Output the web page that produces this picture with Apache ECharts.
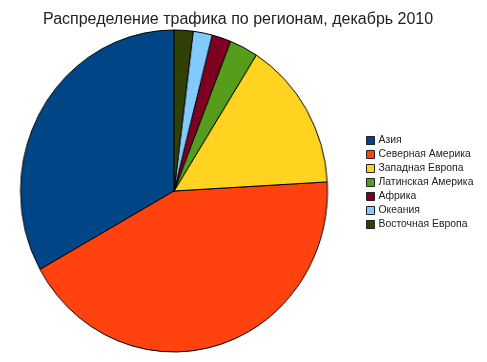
<!DOCTYPE html>
<html><head><meta charset="utf-8">
<script src="https://cdn.jsdelivr.net/npm/echarts@6/dist/echarts.min.js"></script>
<style>html,body{margin:0;padding:0;background:#fff}
#wrap{position:relative;width:487px;height:362px;overflow:hidden}
#p,#c{position:absolute;left:0;top:0;width:487px;height:362px}
#p{transform:scaleX(0.9534);transform-origin:174px 191px}
</style>
</head><body><div id="wrap"><div id="p"></div><div id="c"></div></div>
<script>
const categories = ["Азия","Северная Америка","Западная Европа","Латинская Америка","Африка","Океания","Восточная Европа"];
const values = [33.1, 42.8, 15.1, 3.0, 2.0, 2.0, 2.0];
const colors = ["#004586","#ff420e","#ffd320","#579d1c","#7e0021","#83caff","#314004"];
const titleText = "Распределение трафика по регионам, декабрь 2010";

const seriesData = categories.map((n,i)=>({name:n,value:values[i]}));

const pie = echarts.init(document.getElementById('p'), null, {renderer:'canvas'});
pie.setOption({
  animation:false,
  color: colors,
  series:[{type:'pie',center:[174,191],radius:[0,161],startAngle:90,clockwise:false,
    label:{show:false},labelLine:{show:false},
    itemStyle:{borderColor:'#000',borderWidth:1},
    emphasis:{disabled:true},
    data:seriesData}]
});

const chart = echarts.init(document.getElementById('c'), null, {renderer:'canvas'});
chart.setOption({
  animation:false,
  color: colors,
  title:{text:titleText,left:38,top:7,textStyle:{fontFamily:'Liberation Sans',fontSize:16,fontWeight:'normal',color:'#222'}},
  legend:{orient:'vertical',left:361,top:130,icon:'rect',itemWidth:8,itemHeight:8,itemGap:3,
    itemStyle:{borderColor:'#222',borderWidth:1},
    textStyle:{fontFamily:'Liberation Sans',fontSize:10.4,color:'#222',padding:[0,0,0,-1],lineHeight:11},
    data:categories},
  series:[{type:'pie',center:[-2000,-2000],radius:[0,1],silent:true,
    label:{show:false},labelLine:{show:false},
    data:seriesData}]
});
</script></body></html>
